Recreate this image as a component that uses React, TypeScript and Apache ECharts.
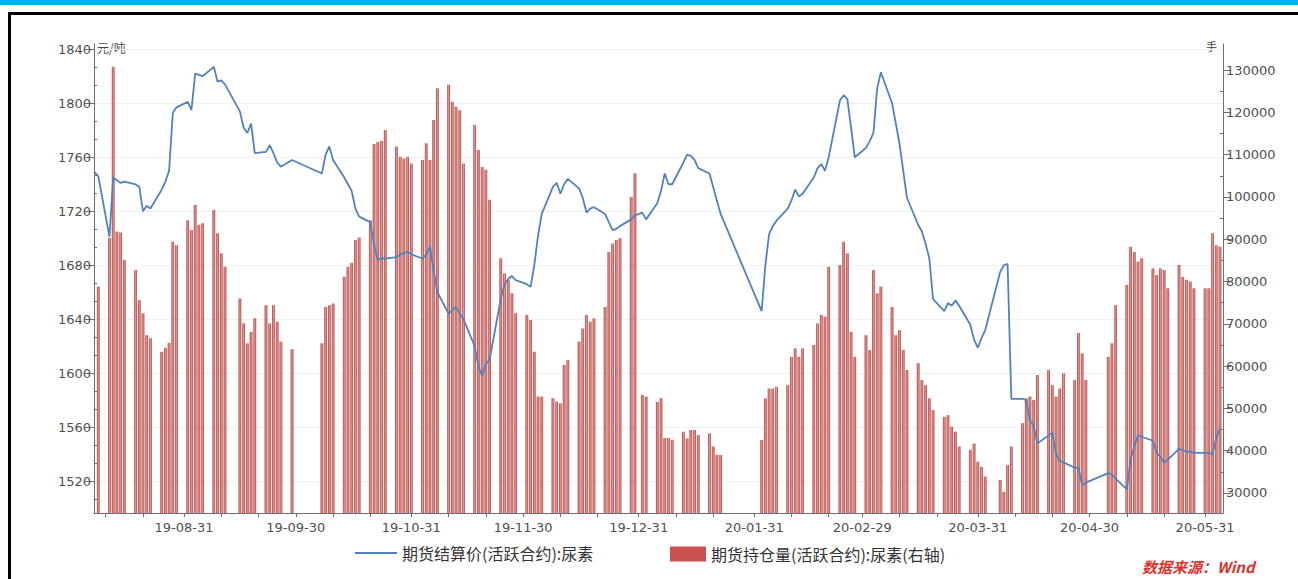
import React, { useEffect, useRef } from "react";
import * as echarts from "echarts";

// ---- data (trading days) ----
const dates: string[] = [
  "2019-08-08","2019-08-09",
  "2019-08-12","2019-08-13","2019-08-14","2019-08-15","2019-08-16",
  "2019-08-19","2019-08-20","2019-08-21","2019-08-22","2019-08-23",
  "2019-08-26","2019-08-27","2019-08-28","2019-08-29","2019-08-30",
  "2019-09-02","2019-09-03","2019-09-04","2019-09-05","2019-09-06",
  "2019-09-09","2019-09-10","2019-09-11","2019-09-12",
  "2019-09-16","2019-09-17","2019-09-18","2019-09-19","2019-09-20",
  "2019-09-23","2019-09-24","2019-09-25","2019-09-26","2019-09-27",
  "2019-09-30",
  "2019-10-08","2019-10-09","2019-10-10","2019-10-11",
  "2019-10-14","2019-10-15","2019-10-16","2019-10-17","2019-10-18",
  "2019-10-21","2019-10-22","2019-10-23","2019-10-24","2019-10-25",
  "2019-10-28","2019-10-29","2019-10-30","2019-10-31","2019-11-01",
  "2019-11-04","2019-11-05","2019-11-06","2019-11-07","2019-11-08",
  "2019-11-11","2019-11-12","2019-11-13","2019-11-14","2019-11-15",
  "2019-11-18","2019-11-19","2019-11-20","2019-11-21","2019-11-22",
  "2019-11-25","2019-11-26","2019-11-27","2019-11-28","2019-11-29",
  "2019-12-02","2019-12-03","2019-12-04","2019-12-05","2019-12-06",
  "2019-12-09","2019-12-10","2019-12-11","2019-12-12","2019-12-13",
  "2019-12-16","2019-12-17","2019-12-18","2019-12-19","2019-12-20",
  "2019-12-23","2019-12-24","2019-12-25","2019-12-26","2019-12-27",
  "2019-12-30","2019-12-31","2020-01-02","2020-01-03",
  "2020-01-06","2020-01-07","2020-01-08","2020-01-09","2020-01-10",
  "2020-01-13","2020-01-14","2020-01-15","2020-01-16","2020-01-17",
  "2020-01-20","2020-01-21","2020-01-22","2020-01-23",
  "2020-02-03","2020-02-04","2020-02-05","2020-02-06","2020-02-07",
  "2020-02-10","2020-02-11","2020-02-12","2020-02-13","2020-02-14",
  "2020-02-17","2020-02-18","2020-02-19","2020-02-20","2020-02-21",
  "2020-02-24","2020-02-25","2020-02-26","2020-02-27","2020-02-28",
  "2020-03-02","2020-03-03","2020-03-04","2020-03-05","2020-03-06",
  "2020-03-09","2020-03-10","2020-03-11","2020-03-12","2020-03-13",
  "2020-03-16","2020-03-17","2020-03-18","2020-03-19","2020-03-20",
  "2020-03-23","2020-03-24","2020-03-25","2020-03-26","2020-03-27",
  "2020-03-30","2020-03-31","2020-04-01","2020-04-02","2020-04-03",
  "2020-04-07","2020-04-08","2020-04-09","2020-04-10",
  "2020-04-13","2020-04-14","2020-04-15","2020-04-16","2020-04-17",
  "2020-04-20","2020-04-21","2020-04-22","2020-04-23","2020-04-24",
  "2020-04-27","2020-04-28","2020-04-29","2020-04-30",
  "2020-05-06","2020-05-07","2020-05-08",
  "2020-05-11","2020-05-12","2020-05-13","2020-05-14","2020-05-15",
  "2020-05-18","2020-05-19","2020-05-20","2020-05-21","2020-05-22",
  "2020-05-25","2020-05-26","2020-05-27","2020-05-28","2020-05-29",
  "2020-06-01","2020-06-02","2020-06-03","2020-06-04","2020-06-05",
];

// 期货结算价(活跃合约):尿素  (元/吨)
const settlePrice: number[] = [
  1749,1746,
  1701,1745,1743,1741,1742,
  1740,1738,1720,1724,1722,
  1736,1742,1750,1793,1797,
  1801,1795,1822,1821,1820,
  1827,1816,1817,1814,
  1794,1782,1778,1785,1763,
  1764,1769,1763,1756,1753,
  1758,
  1748,1762,1768,1758,
  1745,1740,1735,1722,1716,
  1712,1695,1684,1685,1685,
  1686,1688,1689,1690,1688,
  1685,1688,1694,1676,1660,
  1644,1647,1649,1644,1640,
  1620,1605,1598,1607,1610,
  1655,1666,1670,1672,1669,
  1666,1664,1680,1702,1718,
  1738,1741,1733,1740,1744,
  1737,1730,1719,1722,1723,
  1718,1712,1706,1707,1709,
  1714,1717,1719,1714,
  1726,1735,1748,1740,1740,
  1756,1762,1761,1758,1752,
  1748,1738,1728,1718,
  1646,1680,1703,1709,1713,
  1722,1728,1736,1731,1733,
  1745,1752,1755,1750,1760,
  1802,1806,1803,1782,1760,
  1767,1772,1778,1811,1823,
  1800,1785,1770,1750,1730,
  1710,1705,1696,1685,1655,
  1646,1652,1650,1654,1650,
  1636,1625,1619,1626,1632,
  1675,1680,1681,1581,
  1581,1580,1565,1561,1548,
  1554,1556,1540,1535,1534,
  1530,1530,1517,1519,
  1526,1525,1522,
  1514,1536,1546,1554,1553,
  1550,1541,1538,1534,1536,
  1544,1543,1542,1542,1541,
  1541,1541,1540,1552,1559,
];

// 期货持仓量(活跃合约):尿素 (手, 右轴)
const openInterest: (number | null)[] = [
  null,78800,
  90300,130800,91800,91600,85100,
  82700,75600,72500,67300,66600,
  63400,64300,65500,89400,88600,
  94500,92200,98100,93400,93800,
  96900,91400,86700,83500,
  76000,70100,65400,68100,71300,
  74400,70100,74400,70500,65800,
  64000,
  65400,74000,74400,74800,
  81100,83500,84400,89800,90400,
  94500,112500,113000,113300,115800,
  111900,109500,109100,109500,107900,
  108700,112700,108700,118200,125700,
  126500,122500,121300,120500,107900,
  117000,111100,107100,106400,99300,
  85500,81900,80400,77200,72500,
  72100,70900,63400,52800,52800,
  52400,51600,51200,60300,61400,
  65800,68900,72100,70500,71300,
  74000,87000,89000,89800,90200,
  100000,105600,53200,52800,
  51500,52400,43000,43000,42600,
  44500,42900,44900,44900,43700,
  44100,41000,39000,39000,
  42500,52400,54700,54700,55100,
  55500,62200,64200,62200,64200,
  65000,70100,72100,71700,83500,
  83900,89400,86700,68100,62200,
  67300,63800,82700,77200,78800,
  74000,67300,68500,63800,59100,
  60700,56700,55500,52400,49600,
  48000,48400,45700,44500,41000,
  40200,41700,37400,36200,33900,
  33100,30300,36600,41000,
  46500,52400,52800,52000,57900,
  59100,55500,52800,54700,58300,
  56700,67800,63000,56700,
  62200,65400,74400,
  79200,88200,87000,84700,85500,
  83100,81500,83100,82700,78400,
  83900,81100,80400,80000,78400,
  78400,78400,91400,88600,88200,
];

const leftTicks = [1520, 1560, 1600, 1640, 1680, 1720, 1760, 1800, 1840];
const leftMinorTicks = [
  1506.67, 1533.33, 1546.67, 1573.33, 1586.67, 1613.33, 1626.67, 1653.33, 1666.67,
  1693.33, 1706.67, 1733.33, 1746.67, 1773.33, 1786.67, 1813.33, 1826.67,
];
const rightTicks = [30000, 40000, 50000, 60000, 70000, 80000, 90000, 100000, 110000, 120000, 130000];
const rightMinorTicks = [35000, 45000, 55000, 65000, 75000, 85000, 95000, 105000, 115000, 125000];

// month-end labels; minor ticks on the 10th and 20th
const labelDays = [
  "2019-08-31","2019-09-30","2019-10-31","2019-11-30","2019-12-31",
  "2020-01-31","2020-02-29","2020-03-31","2020-04-30","2020-05-31",
];
const tickDays = [
  "2019-08-10","2019-08-20","2019-08-31","2019-09-10","2019-09-20","2019-09-30",
  "2019-10-10","2019-10-20","2019-10-31","2019-11-10","2019-11-20","2019-11-30",
  "2019-12-10","2019-12-20","2019-12-31","2020-01-10","2020-01-20","2020-01-31",
  "2020-02-10","2020-02-20","2020-02-29","2020-03-10","2020-03-20","2020-03-31",
  "2020-04-10","2020-04-20","2020-04-30","2020-05-10","2020-05-20","2020-05-31",
];

const LINE_NAME = "期货结算价(活跃合约):尿素";
const BAR_NAME = "期货持仓量(活跃合约):尿素(右轴)";
const DAY = 86400000;

function ts(s: string): number {
  const [y, m, d] = s.split("-").map(Number);
  return new Date(y, m - 1, d).getTime();
}
// a date's tick sits at the end of that day
const endOfDay = (s: string) => ts(s) + DAY;
const pad = (n: number) => (n < 10 ? "0" + n : "" + n);
function fmt(v: number): string {
  const d = new Date(v - DAY + 3600000);
  return `${String(d.getFullYear()).slice(2)}-${pad(d.getMonth() + 1)}-${pad(d.getDate())}`;
}
const plain = (v: number) => String(Math.round(v));

export default function App() {
  const ref = useRef<HTMLDivElement>(null);

  useEffect(() => {
    document.body.style.margin = "0";
    if (!ref.current) return;
    const chart = echarts.init(ref.current, null, { renderer: "svg" });

    const anchor = ts("2019-09-01");
    const xMin = anchor - 24.15 * DAY;
    const xMax = anchor + 278.8 * DAY;

    const axisColor = "#6e6e6e";
    const labelColor = "#505050";
    const numFont = "DejaVu Sans";
    const cjkFont = "Noto Sans CJK SC";
    const lineColor = "#5282bb";

    const option: any = {
      animation: false,
      backgroundColor: "#ffffff",
      grid: { left: 94, right: 75, top: 44, bottom: 66, containLabel: false },
      legend: [
        {
          data: [{ name: LINE_NAME, icon: "rect", itemStyle: { color: lineColor } }],
          left: 350,
          top: 540,
          itemWidth: 42,
          itemHeight: 2,
          textStyle: { fontSize: 16, color: "#333", fontFamily: cjkFont },
          selectedMode: false,
        },
        {
          data: [{ name: BAR_NAME, icon: "rect", itemStyle: { color: "#c9524f" } }],
          left: 665,
          top: 541,
          itemWidth: 36,
          itemHeight: 15,
          textStyle: { fontSize: 16, color: "#333", fontFamily: cjkFont },
          selectedMode: false,
        },
      ],
      xAxis: {
        type: "value",
        min: xMin,
        max: xMax,
        axisLine: { show: true, onZero: false, lineStyle: { color: axisColor, width: 1 } },
        axisTick: {
          show: true,
          customValues: tickDays.map(endOfDay),
          length: 4,
          lineStyle: { color: axisColor },
        },
        axisLabel: {
          customValues: labelDays.map(endOfDay),
          formatter: (v: number) => fmt(v),
          color: labelColor,
          fontSize: 13,
          fontFamily: numFont,
          margin: 8,
        },
        splitLine: { show: false },
      },
      yAxis: [
        {
          type: "value",
          position: "left",
          min: 1496.5,
          max: 1843.9,
          axisLine: { show: true, lineStyle: { color: axisColor, width: 1 } },
          axisTick: { show: true, customValues: leftTicks, length: 9, lineStyle: { color: axisColor } },
          axisLabel: {
            customValues: leftTicks,
            formatter: plain,
            color: labelColor,
            fontSize: 13,
            fontFamily: numFont,
            margin: 3,
          },
          splitLine: { show: true, lineStyle: { color: "#f1f1f1", width: 1 } },
        },
        {
          type: "value",
          position: "right",
          min: 25270,
          max: 136150,
          axisLine: { show: true, lineStyle: { color: axisColor, width: 1 } },
          axisTick: { show: true, customValues: rightTicks, length: 8, lineStyle: { color: axisColor } },
          axisLabel: {
            customValues: rightTicks,
            formatter: plain,
            color: labelColor,
            fontSize: 13,
            fontFamily: numFont,
            margin: 3,
          },
          splitLine: { show: false },
        },
        {
          type: "value",
          position: "left",
          min: 1496.5,
          max: 1843.9,
          axisLine: { show: false },
          axisTick: { show: true, inside: true, customValues: leftMinorTicks, length: 3, lineStyle: { color: axisColor } },
          axisLabel: { show: false },
          splitLine: { show: false },
        },
        {
          type: "value",
          position: "right",
          min: 25270,
          max: 136150,
          axisLine: { show: false },
          axisTick: { show: true, inside: true, customValues: rightMinorTicks, length: 3, lineStyle: { color: axisColor } },
          axisLabel: { show: false },
          splitLine: { show: false },
        },
      ],
      series: [
        {
          name: BAR_NAME,
          type: "bar",
          yAxisIndex: 1,
          barWidth: 2.8,
          data: dates.map((d, i) => [ts(d), openInterest[i]]),
          itemStyle: {
            color: new echarts.graphic.LinearGradient(0, 0, 1, 0, [
              { offset: 0, color: "#a8403e" },
              { offset: 0.5, color: "#e7928f" },
              { offset: 1, color: "#a8403e" },
            ]),
          },
          z: 2,
        },
        {
          name: LINE_NAME,
          type: "line",
          yAxisIndex: 0,
          symbol: "none",
          data: dates.map((d, i) => [ts(d), settlePrice[i]]),
          lineStyle: { color: lineColor, width: 1.8 },
          itemStyle: { color: lineColor },
          z: 3,
        },
      ],
      graphic: [
        {
          type: "rect",
          shape: { x: 0, y: 0, width: 1298, height: 5 },
          style: { fill: "#00aeef" },
          silent: true,
        },
        {
          type: "rect",
          shape: { x: 9.5, y: 13.5, width: 1400, height: 700 },
          style: { fill: "none", stroke: "#000000", lineWidth: 3 },
          silent: true,
        },
        {
          type: "text",
          x: 97,
          y: 41,
          style: { text: "元/吨", fill: "#444", fontSize: 12, fontFamily: cjkFont },
          silent: true,
        },
        {
          type: "text",
          x: 1206,
          y: 40,
          style: { text: "手", fill: "#444", fontSize: 11, fontFamily: cjkFont },
          silent: true,
        },
        {
          type: "text",
          x: 1142,
          y: 559,
          style: {
            text: "数据来源：Wind",
            fill: "#d9342b",
            fontSize: 15,
            fontStyle: "italic",
            fontWeight: "bold",
            fontFamily: cjkFont,
          },
          silent: true,
        },
      ],
    };

    chart.setOption(option);
    return () => chart.dispose();
  }, []);

  return (
    <div
      ref={ref}
      style={{ position: "absolute", left: 0, top: 0, width: 1298, height: 579, background: "#fff" }}
    />
  );
}
